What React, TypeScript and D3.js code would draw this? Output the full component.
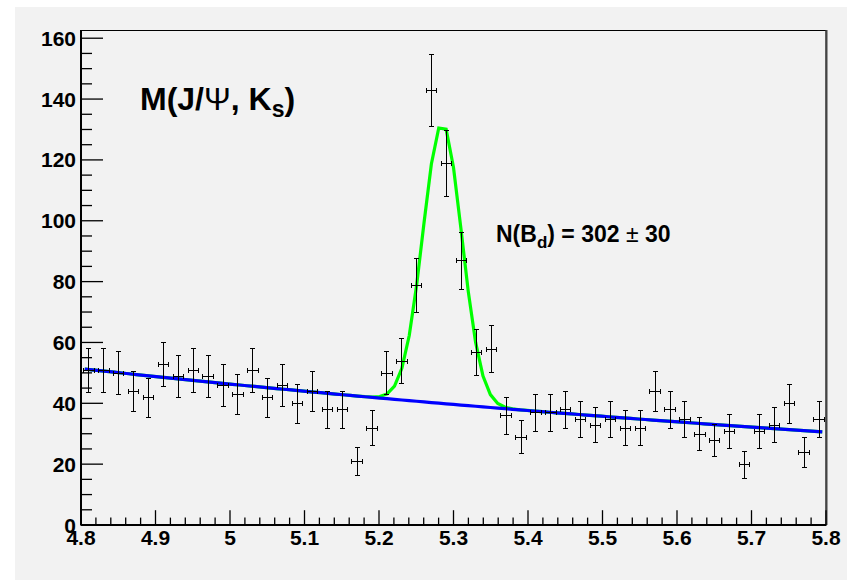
import React from 'react';
import * as d3 from 'd3';

// ---- data ----
const binLow = 4.8;
const binWidth = 0.02;
const counts = [51, 51, 50, 44, 42, 53, 49, 51, 49, 46, 43, 51, 42, 46, 40, 44, 38, 38, 21, 32,
  50, 54, 79, 143, 119, 87, 57, 58, 36, 29, 37, 37, 38, 35, 33, 35, 32, 32, 44, 38,
  35, 30, 28, 31, 20, 31, 33, 40, 24, 35];
const xTicks = [4.8, 4.9, 5.0, 5.1, 5.2, 5.3, 5.4, 5.5, 5.6, 5.7, 5.8];
const xTickLabels = ['4.8', '4.9', '5', '5.1', '5.2', '5.3', '5.4', '5.5', '5.6', '5.7', '5.8'];
const yTicks = [0, 20, 40, 60, 80, 100, 120, 140, 160];
// fit parameters: exponential background + gaussian signal
const bkgNorm = 51.4;
const bkgSlope = -0.52;
const sigAmp = 92.0;
const sigMean = 5.285;
const sigSigma = 0.026;
const fitRange = [4.805, 5.795];
const fitNpx = 100;

const W = 847, H = 580;
const L = 81, R = 826, T = 30, B = 525;

export default function App() {
  const x = d3.scaleLinear().domain([4.8, 5.8]).range([L, R]);
  const y = d3.scaleLinear().domain([0, 162.7]).range([B, T]);

  const bkg = (m: number) => bkgNorm * Math.exp(bkgSlope * (m - 4.8));
  const total = (m: number) => bkg(m) + sigAmp * Math.exp(-0.5 * ((m - sigMean) / sigSigma) ** 2);

  const samples = d3.range(fitNpx + 1).map(i => fitRange[0] + (fitRange[1] - fitRange[0]) * i / fitNpx);
  const line = d3.line<number>();
  const bkgPath = line(samples.map(m => [x(m), y(bkg(m))] as [number, number]));
  const totPath = line(samples.map(m => [x(m), y(total(m))] as [number, number]));

  const minorY = d3.range(0, 161, 5);
  const minorX = d3.range(0, 51).map(i => 4.8 + i * 0.02);

  const font = 'Liberation Sans, Arial, Helvetica, sans-serif';
  const cap = 2.5;

  return (
    <div style={{ position: 'absolute', left: 0, top: 0 }}>
      <svg width={W} height={H} style={{ display: 'block' }}>
        <rect x={0} y={0} width={W} height={H} fill="#ffffff" />
        <rect x={15} y={7} width={W - 15} height={H - 7} fill="#f2f2f2" />
        {/* frame */}
        <rect x={L} y={T + 0.5} width={R - L} height={B - T} fill="none" stroke="#000" strokeWidth={1} />
        <line x1={R + 0.5} y1={T} x2={R + 0.5} y2={B} stroke="#444" strokeWidth={2} />
        {/* fit curves */}
        <path d={totPath || ''} fill="none" stroke="#00ff00" strokeWidth={3.2} />
        <path d={bkgPath || ''} fill="none" stroke="#0000ff" strokeWidth={3.2} />
        {/* data points */}
        <g stroke="#000" strokeWidth={1} shapeRendering="crispEdges">
          {counts.map((c, i) => {
            const lo = binLow + i * binWidth;
            const xc = Math.round(x(lo + binWidth / 2)) + 0.5;
            const x0 = Math.round(x(lo + 0.003)) + 0.5;
            const x1 = Math.round(x(lo + binWidth - 0.003)) + 0.5;
            const err = Math.sqrt(c);
            const yc = Math.round(y(c)) + 0.5;
            const yt = Math.round(y(c + err)) + 0.5;
            const yb = Math.round(y(c - err)) + 0.5;
            return (
              <g key={i}>
                <line x1={xc} y1={yt} x2={xc} y2={yb} />
                <line x1={xc - cap} y1={yt} x2={xc + cap} y2={yt} />
                <line x1={xc - cap} y1={yb} x2={xc + cap} y2={yb} />
                <line x1={x0} y1={yc} x2={x1} y2={yc} />
                <line x1={x0} y1={yc - cap} x2={x0} y2={yc + cap} />
                <line x1={x1} y1={yc - cap} x2={x1} y2={yc + cap} />
              </g>
            );
          })}
        </g>
        {/* y axis */}
        <line x1={L} y1={T} x2={L} y2={B} stroke="#000" strokeWidth={2} />
        <g stroke="#000" strokeWidth={1.3}>
          {minorY.map(v => (
            <line key={v} x1={L} x2={L + (v % 20 === 0 ? 22 : 11)} y1={y(v)} y2={y(v)} />
          ))}
        </g>
        <g fontFamily={font} fontWeight="bold" fontSize={21} textAnchor="end">
          {yTicks.map(v => (
            <text key={v} x={76} y={y(v) + 7.5}>{v}</text>
          ))}
        </g>
        {/* x axis */}
        <line x1={L} y1={B} x2={R} y2={B} stroke="#000" strokeWidth={2} />
        <g stroke="#000" strokeWidth={1.3}>
          {minorX.map((v, i) => (
            <line key={i} x1={x(v)} x2={x(v)} y1={B} y2={B - (i % 5 === 0 ? 14.8 : 7.4)} />
          ))}
        </g>
        <g fontFamily={font} fontWeight="bold" fontSize={21} textAnchor="middle">
          {xTicks.map((v, i) => (
            <text key={v} x={x(v)} y={545}>{xTickLabels[i]}</text>
          ))}
        </g>
        {/* labels */}
        <text x={140} y={110} fontFamily={font} fontWeight="bold" fontSize={32} fill="#000">
          M(J/<tspan fontWeight="normal">Ψ</tspan>, K<tspan dy={7} fontSize={23}>s</tspan><tspan dy={-7}>)</tspan>
        </text>
        <text x={496} y={242} fontFamily={font} fontWeight="bold" fontSize={23} fill="#000">
          N(B<tspan dy={6} fontSize={17}>d</tspan><tspan dy={-6}>) = 302 </tspan><tspan fontWeight="normal">±</tspan> 30
        </text>
      </svg>
    </div>
  );
}
